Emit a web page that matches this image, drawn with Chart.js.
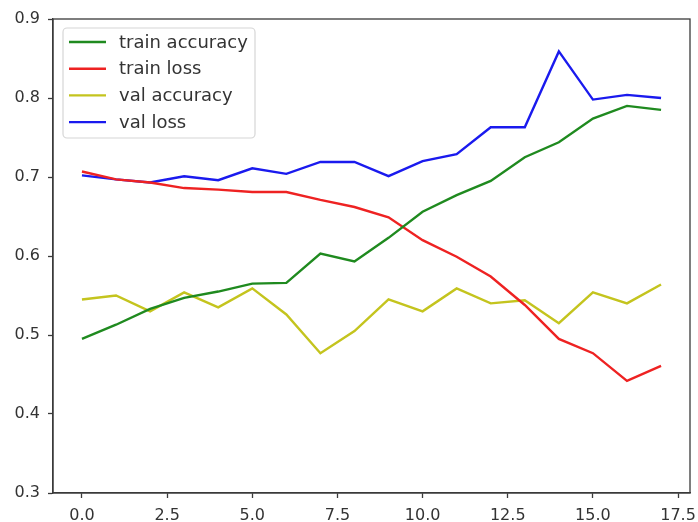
<!DOCTYPE html>
<html>
<head>
<meta charset="utf-8">
<script src="https://cdn.jsdelivr.net/npm/chart.js@4"></script>
<style>
  html, body { margin: 0; padding: 0; background: #fff; }
  #wrap { width: 698px; height: 522px; }
</style>
</head>
<body>
<div id="wrap"><canvas id="c" width="698" height="522"></canvas></div>
<script>
// Training history per epoch
const epochs     = [0, 1, 2, 3, 4, 5, 6, 7, 8, 9, 10, 11, 12, 13, 14, 15, 16, 17];
const trainAcc   = [0.495, 0.513, 0.533, 0.547, 0.555, 0.565, 0.566, 0.603, 0.593, 0.623, 0.656, 0.677, 0.695, 0.725, 0.744, 0.774, 0.790, 0.785];
const trainLoss  = [0.707, 0.697, 0.693, 0.686, 0.684, 0.681, 0.681, 0.671, 0.662, 0.649, 0.620, 0.599, 0.574, 0.538, 0.495, 0.477, 0.442, 0.461];
const valAcc     = [0.545, 0.550, 0.530, 0.554, 0.535, 0.559, 0.526, 0.477, 0.505, 0.545, 0.530, 0.559, 0.540, 0.544, 0.515, 0.554, 0.540, 0.564];
const valLoss    = [0.702, 0.697, 0.693, 0.701, 0.696, 0.711, 0.704, 0.719, 0.719, 0.701, 0.720, 0.729, 0.763, 0.763, 0.859, 0.798, 0.804, 0.800];

// Axis ticks
const xTicks = [0, 2.5, 5, 7.5, 10, 12.5, 15, 17.5];
const yTicks = [0.3, 0.4, 0.5, 0.6, 0.7, 0.8, 0.9];

const seriesNames  = ['train accuracy', 'train loss', 'val accuracy', 'val loss'];
const seriesValues = [trainAcc, trainLoss, valAcc, valLoss];
const seriesColors = ['#1f8a1f', '#ee2222', '#c4c41e', '#1a1aee'];

const toPoints = vals => vals.map((v, i) => ({ x: epochs[i], y: v }));

const TEXT = '#333333';
const FRAME = '#3a3a3a';

// Box around the plotting area
const framePlugin = {
  id: 'frame',
  afterDatasetsDraw(chart) {
    const { ctx, chartArea: a } = chart;
    ctx.save();
    ctx.strokeStyle = FRAME;
    ctx.lineWidth = 1.3;
    ctx.strokeRect(a.left, a.top, a.right - a.left, a.bottom - a.top);
    ctx.restore();
  }
};

// Legend box in the upper-left corner of the plot
const legendPlugin = {
  id: 'boxLegend',
  afterDraw(chart) {
    const { ctx, chartArea: a } = chart;
    const x0 = a.left + 10, y0 = a.top + 9;
    const w = 192, h = 110, r = 4;
    ctx.save();
    ctx.beginPath();
    ctx.roundRect(x0, y0, w, h, r);
    ctx.fillStyle = 'rgba(255,255,255,0.85)';
    ctx.fill();
    ctx.strokeStyle = '#d6d6d6';
    ctx.lineWidth = 1.2;
    ctx.stroke();
    ctx.font = '18px "DejaVu Sans"';
    ctx.textBaseline = 'middle';
    chart.data.datasets.forEach((ds, i) => {
      const cy = y0 + 14 + i * 26.7;
      ctx.beginPath();
      ctx.moveTo(x0 + 6, cy);
      ctx.lineTo(x0 + 43, cy);
      ctx.strokeStyle = ds.borderColor;
      ctx.lineWidth = 2.4;
      ctx.stroke();
      ctx.fillStyle = TEXT;
      ctx.fillText(ds.label, x0 + 56, cy + 1);
    });
    ctx.restore();
  }
};

new Chart(document.getElementById('c'), {
  type: 'line',
  data: {
    datasets: seriesNames.map((name, i) => ({
      label: name,
      data: toPoints(seriesValues[i]),
      borderColor: seriesColors[i],
      backgroundColor: seriesColors[i],
      borderWidth: 2.4,
      pointRadius: 0,
      tension: 0,
      fill: false
    }))
  },
  options: {
    responsive: false,
    animation: false,
    events: [],
    layout: { padding: { top: 19, right: 8, left: 0, bottom: 0 } },
    plugins: { legend: { display: false }, tooltip: { enabled: false } },
    scales: {
      x: {
        type: 'linear',
        min: -0.85,
        max: 17.85,
        afterBuildTicks(scale) { scale.ticks = xTicks.map(v => ({ value: v })); },
        afterFit(scale) {
          scale.height = 29;
          // the end labels fit inside the fixed outer margin
          scale.paddingLeft = 0;
          scale.paddingRight = 0;
        },
        ticks: {
          autoSkip: false,
          maxRotation: 0,
          padding: 8,
          color: TEXT,
          font: { family: 'DejaVu Sans', size: 16 },
          callback: v => Number(v).toFixed(1)
        },
        grid: { drawOnChartArea: false, drawTicks: true, tickLength: 5, tickColor: FRAME, tickWidth: 1.3 },
        border: { display: true, color: FRAME, width: 1.3 }
      },
      y: {
        type: 'linear',
        min: 0.3,
        max: 0.9,
        afterBuildTicks(scale) { scale.ticks = yTicks.map(v => ({ value: v })); },
        afterFit(scale) {
          scale.width = 53;
          scale.paddingTop = 0;
          scale.paddingBottom = 0;
        },
        ticks: {
          padding: 8,
          color: TEXT,
          font: { family: 'DejaVu Sans', size: 16 },
          callback: v => Number(v).toFixed(1)
        },
        grid: { drawOnChartArea: false, drawTicks: true, tickLength: 5, tickColor: FRAME, tickWidth: 1.3 },
        border: { display: true, color: FRAME, width: 1.3 }
      }
    }
  },
  plugins: [framePlugin, legendPlugin]
});
</script>
</body>
</html>
